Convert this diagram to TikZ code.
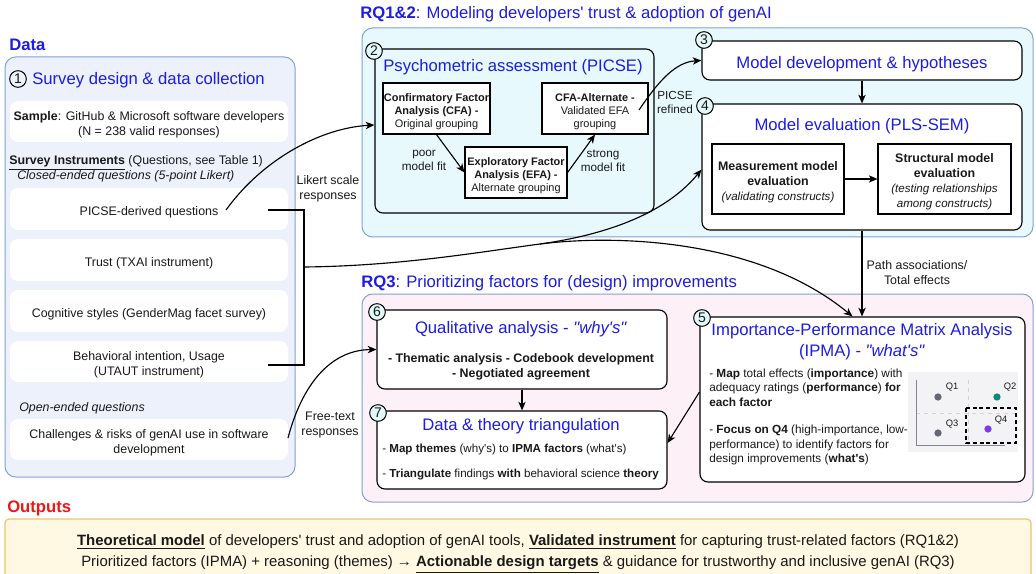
\documentclass[tikz,border=0pt]{standalone}
\usepackage{fontspec}
\setmainfont{Liberation Sans}[Ligatures=TeXOff]
\usetikzlibrary{arrows.meta,calc}
\definecolor{tblue}{RGB}{28,28,228}
\definecolor{pborder}{RGB}{128,160,212}
\definecolor{datafill}{RGB}{237,241,252}
\definecolor{rqafill}{RGB}{231,249,253}
\definecolor{rqbfill}{RGB}{253,240,246}
\definecolor{numfill}{RGB}{226,248,248}
\definecolor{outfill}{RGB}{255,248,226}
\definecolor{outborder}{RGB}{240,196,96}
\definecolor{outred}{RGB}{236,24,24}
\definecolor{txt}{RGB}{25,25,25}
\definecolor{qgray}{RGB}{100,104,116}
\definecolor{qteal}{RGB}{0,140,124}
\definecolor{qpurple}{RGB}{128,56,232}
\definecolor{chartbg}{RGB}{243,243,245}
\definecolor{gridc}{RGB}{210,210,216}
\newcommand\ftitle{\fontsize{12.5}{15.5}\selectfont}
\newcommand\fhead{\fontsize{12.5}{15}\selectfont}
\newcommand\ftext{\fontsize{9.3}{11.25}\selectfont}
\newcommand\ftri{\fontsize{8.7}{11}\selectfont}
\newcommand\fipma{\fontsize{8.85}{10.9}\selectfont}
\newcommand\fsmall{\fontsize{8.2}{9.4}\selectfont}
\newcommand\fital{\fontsize{8.7}{11.25}\selectfont\itshape}
\newcommand\flab{\fontsize{8.8}{10.5}\selectfont}
\newcommand\fnum{\fontsize{10.5}{12}\selectfont}
\newcommand\fq{\fontsize{7}{8}\selectfont}
\newcommand\fout{\fontsize{11.2}{15.75}\selectfont}
% lower the text a little inside a box, keeping its measured size
\newcommand\mb[1]{\raisebox{-2.6pt}[\height][\depth]{\begin{tabular}{@{}c@{}}#1\end{tabular}}}
\begin{document}
\begin{tikzpicture}[x=0.75pt,y=-0.75pt,
  every node/.style={text=txt},
  at box/.style n args={4}{at={({(#1+#3)/2},{(#2+#4)/2})},minimum width={(#3-#1)*0.75pt},minimum height={(#4-#2)*0.75pt}},
  arr/.style={-{Stealth[length=6.5pt,width=5.5pt,inset=1.8pt]},line width=0.85pt,draw=black},
  conn/.style={line width=0.85pt,draw=black},
  panel/.style={draw=pborder,line width=0.75pt,rounded corners=8pt,inner sep=0pt},
  wbox/.style={fill=white,rounded corners=6pt,inner sep=0pt,align=center,font=\ftext},
  bbox/.style={draw=black,fill=white,line width=0.85pt,rounded corners=6pt,inner sep=0pt,align=center},
  sbox/.style={draw=black,fill=white,line width=0.85pt,inner sep=0pt,align=center,font=\fsmall},
  num/.style={circle,draw=black,line width=0.75pt,fill=numfill,inner sep=0pt,minimum size=12.5pt,font=\fnum},
  ttl/.style={font=\ftitle,text=tblue,inner sep=0pt,align=center},
  lbl/.style={font=\flab,inner sep=0pt,align=center},
  lft/.style={font=\ftext,inner sep=0pt,anchor=base west,align=left},
  dot/.style={circle,inner sep=0pt,minimum size=5.5pt},
  qlab/.style={font=\fq,inner sep=0pt},
]
\useasboundingbox (0,0) rectangle (1036,574);

% panels
\node[panel,fill=datafill,at box={5}{57}{295}{477}] (datap) {};
\node[panel,fill=rqafill,at box={362}{28}{1033}{237}] (rqap) {};
\node[panel,fill=rqbfill,at box={362}{294}{1033}{502}] (rqbp) {};
\node[draw=outborder,fill=outfill,line width=0.9pt,rounded corners=3pt,inner sep=0pt,at box={5}{519}{1031}{585}] (outp) {};

% headers
\node[anchor=west,font=\fhead\bfseries,text=tblue,inner sep=0pt] (datah) at (9,45) {Data};
\node[anchor=west,font=\fhead,text=tblue,inner sep=0pt] (rqah) at (360,14) {\textbf{RQ1\&2}: Modeling developers' trust \& adoption of genAI};
\node[anchor=west,font=\fhead,text=tblue,inner sep=0pt] (rqbh) at (361,283) {\textbf{RQ3}: Prioritizing factors for (design) improvements};
\node[anchor=west,font=\fhead\bfseries,text=outred,inner sep=0pt] (outh) at (7,508) {Outputs};

% data panel
\node[num,fill=datafill] (n1) at (18,79) {1};
\node[ttl,anchor=west] (t1) at (32,80) {Survey design \& data collection};
\node[wbox,at box={10}{101}{288}{142}] (sample) {\mb{\textbf{Sample}: GitHub \& Microsoft software developers\\(N = 238 valid responses)}};
\node[lft] (instr) at (9,165) {\underline{\textbf{Survey Instruments}} (Questions, see Table 1)};
\node[lft,font=\ftext\itshape] (closed) at (17,180) {Closed-ended questions (5-point Likert)};
\node[wbox,at box={10}{188}{288}{230}] (picse) {\mb{PICSE-derived questions}};
\node[wbox,at box={10}{239}{288}{281}] (trust) {\mb{Trust (TXAI instrument)}};
\node[wbox,at box={10}{290}{288}{332}] (cog) {\mb{Cognitive styles (GenderMag facet survey)}};
\node[wbox,at box={10}{341}{288}{382}] (beh) {\mb{Behavioral intention, Usage\\(UTAUT instrument)}};
\node[lft,font=\ftext\itshape] (open) at (19,411) {Open-ended questions};
\node[wbox,at box={10}{419}{288}{460}] (chal) {\mb{Challenges \& risks of genAI use in software\\development}};

% RQ1&2
\node[bbox,fill=rqafill,at box={375}{49}{654}{213}] (psy) {};
\node[num] (n2) at (374,51) {2};
\node[ttl] (t2) at (513,67) {Psychometric assessment (PICSE)};
\node[sbox,at box={383}{83}{490}{134}] (cfa) {\mb{\textbf{Confirmatory Factor}\\\textbf{Analysis (CFA) -}\\Original grouping}};
\node[sbox,at box={465}{147}{567}{198}] (efa) {\mb{\textbf{Exploratory Factor}\\\textbf{Analysis (EFA) -}\\Alternate grouping}};
\node[sbox,at box={542}{83}{648}{134}] (cfaalt) {\mb{\textbf{CFA-Alternate -}\\Validated EFA\\grouping}};
\node[lbl] (poor) at (424,160) {poor\\model fit};
\node[lbl] (strong) at (603,160.5) {strong\\model fit};
\node[lbl] (refined) at (675,102.5) {PICSE\\refined};

\node[bbox,font=\ftitle,text=tblue,at box={702}{41}{1022}{80}] (mdev) {\mb{Model development \& hypotheses}};
\node[num] (n3) at (704,40) {3};
\node[bbox,at box={702}{104}{1022}{230}] (meval) {};
\node[num] (n4) at (705,106) {4};
\node[ttl] (t4) at (862,126) {Model evaluation (PLS-SEM)};
\node[sbox,font=\ftext,at box={712}{144}{844}{214}] (meas) {\mb{\textbf{Measurement model}\\\textbf{evaluation}\\{\fital (validating constructs)}}};
\node[sbox,font=\ftext,at box={878}{144}{1011}{214}] (struc) {\mb{\textbf{Structural model}\\\textbf{evaluation}\\{\fital (testing relationships}\\{\fital among constructs)}}};
\node[lbl,font=\ftext] (path) at (917,273) {Path associations/\\Total effects};

% RQ3
\node[bbox,at box={377}{310}{667}{389}] (qual) {};
\node[num] (n6) at (377,312) {6};
\node[ttl] (t6) at (521,329.5) {Qualitative analysis - \textit{"why's"}};
\node[lbl,font=\ftext\bfseries] (them) at (521,366.5) {- Thematic analysis - Codebook development\\- Negotiated agreement};
\node[bbox,at box={377}{411}{667}{489}] (tri) {};
\node[num] (n7) at (378,413) {7};
\node[ttl] (t7) at (521,426) {Data \& theory triangulation};
\node[lft,font=\ftri] (tri1) at (382,452.5) {- \textbf{Map themes} (why's) to \textbf{IPMA factors} (what's)};
\node[lft,font=\ftri] (tri2) at (382,477.5) {- \textbf{Triangulate} findings \textbf{with} behavioral science \textbf{theory}};

\node[bbox,at box={700}{317}{1025}{482}] (ipma) {};
\node[num] (n5) at (702,318) {5};
\node[ttl] (t5) at (862,342) {Importance-Performance Matrix Analysis\\(IPMA) - \textit{"what's"}};

% chart
\fill[chartbg] (908,372) rectangle (1018,452);
\draw[gridc,dashed,line width=0.4pt] (968,380) -- (968,445) (916,413) -- (1018,413);
\draw[qgray!80,line width=0.6pt] (916,380) -- (916,445) -- (1005,445);
\node[dot,fill=qgray] (q1) at (938,397) {};
\node[dot,fill=qteal] (q2) at (997,397) {};
\node[dot,fill=qgray] (q3) at (938,433) {};
\node[dot,fill=qpurple] (q4) at (988,429) {};
\node[qlab] (q1l) at (952,387) {Q1};
\node[qlab] (q2l) at (1010,387) {Q2};
\node[qlab] (q3l) at (952,424) {Q3};
\node[qlab] (q4l) at (1001,420) {Q4};
\draw[line width=0.9pt,dash pattern=on 3pt off 2.2pt] (966,408) rectangle (1016,443);

\node[anchor=west,inner sep=0pt,align=left,font=\fipma] (ip1) at (709,387.5) {- \textbf{Map} total effects (\textbf{importance}) with\\adequacy ratings (\textbf{performance}) \textbf{for}\\\textbf{each factor}};
\node[anchor=west,inner sep=0pt,align=left,font=\fipma] (ip2) at (709,445) {- \textbf{Focus on Q4} (high-importance, low-\\performance) to identify factors for\\design improvements (\textbf{what's})};

% outputs
\node[font=\fout,align=center,inner sep=0pt] (outt) at (518,554) {\underline{\textbf{Theoretical model}} of developers' trust and adoption of genAI tools, \underline{\textbf{Validated instrument}} for capturing trust-related factors (RQ1\&2)\\Prioritized factors (IPMA) + reasoning (themes) → \underline{\textbf{Actionable design targets}} \& guidance for trustworthy and inclusive genAI (RQ3)};

% labels for connectors
\node[lbl,font=\ftext] (likert) at (328,188.5) {Likert scale\\responses};
\node[lbl,font=\ftext] (free) at (330,425.5) {Free-text\\responses};

% connectors
\coordinate (picseEnd) at (226,210);
\coordinate (brT) at (268,210);
\coordinate (brB) at (268,365);
\coordinate (brJ) at (304,267);
\coordinate (split) at (540,244);
\coordinate (chalEnd) at (288,438);
\coordinate (altEnd) at (639,110);

\draw[arr] (picseEnd) .. controls (262,160) and (320,128) .. ([yshift=4.5pt]psy.west);
\draw[conn] (brT) -- (brT -| brJ) -- (brB -| brJ) -- (brB);
\draw[conn] (brJ) .. controls (400,266) and (480,252) .. (split);
\draw[arr] (split) .. controls (590,237) and (660,220) .. ([yshift=-2pt]meval.west);
\draw[arr] (split) .. controls (620,234) and (760,240) .. ([xshift=-7.5pt]ipma.north);
\draw[arr] (chalEnd) .. controls (302,385) and (330,350) .. (qual.west);
\draw[arr] (cfa.south) -- (efa.west);
\draw[arr] (efa.east) -- (cfaalt.south);
\draw[arr] (altEnd) .. controls (658,82) and (675,62) .. (mdev.west);
\draw[arr] (mdev.south) -- (meval.north);
\draw[arr] (meas.east) -- (struc.west);
\draw[arr] (meval.south) -- (meval.south |- ipma.north);
\draw[arr] (qual.south) -- (tri.north);
\draw[arr] ([yshift=5.6pt]ipma.west) -- ([yshift=5.25pt]tri.east);
\end{tikzpicture}
\end{document}
